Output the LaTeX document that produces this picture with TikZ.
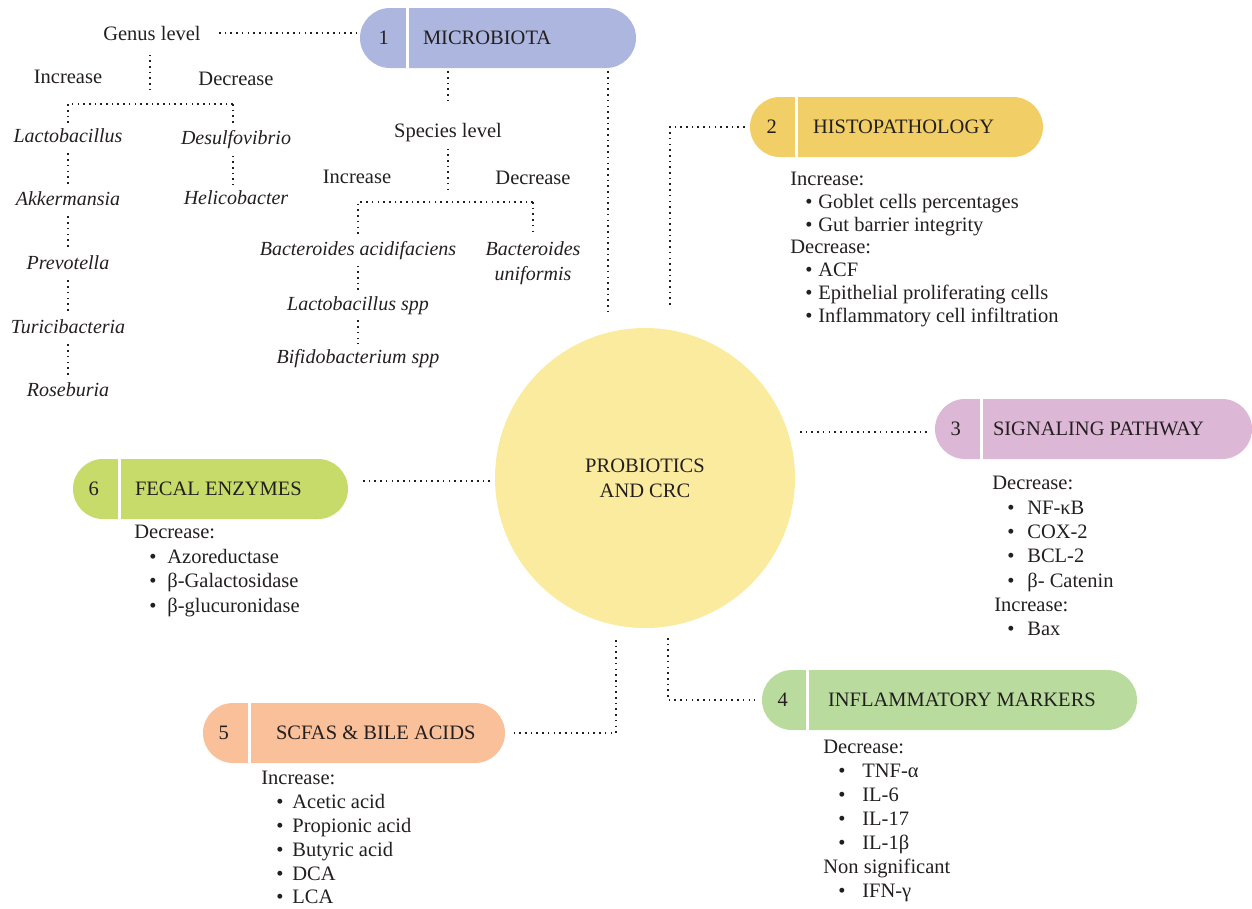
\documentclass[tikz,border=0pt]{standalone}
\usepackage{fontspec}
\setmainfont{Liberation Serif}
\usetikzlibrary{calc}

\definecolor{cInk}{HTML}{231F20}
\definecolor{cMicro}{HTML}{ADB6DF}
\definecolor{cHisto}{HTML}{F2CF66}
\definecolor{cSignal}{HTML}{DCB7D6}
\definecolor{cInflam}{HTML}{B9DC9E}
\definecolor{cScfa}{HTML}{F9C09A}
\definecolor{cFecal}{HTML}{C7DB6A}
\definecolor{cCircle}{HTML}{FBEB9F}

% bullet line of a list block
\newcommand{\itm}[2][13pt]{\hspace*{15pt}\makebox[#1][l]{\textbullet}#2}

\tikzset{every picture/.style={line width=0.75pt}}
\tikzset{
  base text/.style={text=cInk, font=\fontsize{20.5}{24}\selectfont, inner sep=2pt},
  taxon/.style={text=cInk, font=\fontsize{20}{24}\selectfont\itshape, inner sep=2pt},
  pill/.style={rounded corners=30pt, minimum height=60pt, inner sep=0pt},
  divider/.style={white, line width=3pt},
  dotline/.style={cInk, line width=1.8pt, dash pattern=on 1.6pt off 4.1pt},
  listtext/.style={text=cInk, anchor=north west, align=left, inner sep=0pt},
}

\begin{document}
\begin{tikzpicture}[x=1pt,y=1pt,yscale=-1,xscale=1]
\useasboundingbox (0,0) rectangle (1252,908);

%Central circle
\node [circle, fill=cCircle, minimum size=300pt, inner sep=0pt, align=center, text=cInk, font=\fontsize{20.5}{25}\selectfont] (crc) at (645,478) {PROBIOTICS\\AND CRC};

%Pill 1 [microbiota]
\node [pill, fill=cMicro, minimum width=276pt] (m1) at (498,38) {};
\draw [divider] ($(m1.north west)+(48,0)$) -- ($(m1.south west)+(48,0)$);
\node [base text] (n1) at ($(m1.west)+(24,0)$) {1};
\node [base text, anchor=west] (h1) at ($(m1.west)+(61,0)$) {MICROBIOTA};
%Pill 2 [histopathology]
\node [pill, fill=cHisto, minimum width=293pt] (m2) at (896.5,127) {};
\draw [divider] ($(m2.north west)+(47,0)$) -- ($(m2.south west)+(47,0)$);
\node [base text] (n2) at ($(m2.west)+(22,0)$) {2};
\node [base text, anchor=west] (h2) at ($(m2.west)+(61,0)$) {HISTOPATHOLOGY};
%Pill 3 [signaling]
\node [pill, fill=cSignal, minimum width=317pt] (m3) at (1093.5,429) {};
\draw [divider] ($(m3.north west)+(47,0)$) -- ($(m3.south west)+(47,0)$);
\node [base text] (n3) at ($(m3.west)+(21,0)$) {3};
\node [base text, anchor=west] (h3) at ($(m3.west)+(56,0)$) {SIGNALING PATHWAY};
%Pill 4 [inflammatory]
\node [pill, fill=cInflam, minimum width=375pt] (m4) at (949.5,700) {};
\draw [divider] ($(m4.north west)+(46,0)$) -- ($(m4.south west)+(46,0)$);
\node [base text] (n4) at ($(m4.west)+(21,0)$) {4};
\node [base text, anchor=west] (h4) at ($(m4.west)+(64,0)$) {INFLAMMATORY MARKERS};
%Pill 5 [scfas]
\node [pill, fill=cScfa, minimum width=302pt] (m5) at (354,733) {};
\draw [divider] ($(m5.north west)+(47,0)$) -- ($(m5.south west)+(47,0)$);
\node [base text] (n5) at ($(m5.west)+(21,0)$) {5};
\node [base text, anchor=west] (h5) at ($(m5.west)+(71,0)$) {SCFAS \& BILE ACIDS};
%Pill 6 [fecal]
\node [pill, fill=cFecal, minimum width=275pt] (m6) at (210.5,489) {};
\draw [divider] ($(m6.north west)+(47,0)$) -- ($(m6.south west)+(47,0)$);
\node [base text] (n6) at ($(m6.west)+(21,0)$) {6};
\node [base text, anchor=west] (h6) at ($(m6.west)+(60,0)$) {FECAL ENZYMES};

%Genus tree
\node [base text] (genus) at (152,33) {Genus level};
\node [base text] (gincr) at (68,77) {Increase};
\node [base text] (gdecr) at (236,79) {Decrease};
\node [taxon] (lacto) at (68,136) {Lactobacillus};
\node [taxon] (akk) at (68,199) {Akkermansia};
\node [taxon] (prevo) at (68,263) {Prevotella};
\node [taxon] (turici) at (68,327) {Turicibacteria};
\node [taxon] (rose) at (68,390) {Roseburia};
\node [taxon] (desulf) at (236,140) {Desulfovibrio};
\node [taxon] (helico) at (236,198) {Helicobacter};
\coordinate (gsplit) at (150,104);
\coordinate (gl) at (68,104);
\coordinate (gr) at (233,104);

%Species tree
\node [base text] (species) at (448,133) {Species level};
\node [base text] (sincr) at (357,177) {Increase};
\node [base text] (sdecr) at (533,178) {Decrease};
\node [taxon] (bacac) at (358,251) {Bacteroides acidifaciens};
\node [taxon] (lacspp) at (358,306) {Lactobacillus spp};
\node [taxon] (bifid) at (358,359) {Bifidobacterium spp};
\node [taxon, align=center, font=\fontsize{20}{25}\selectfont\itshape] (bacun) at (533,263) {Bacteroides\\uniformis};
\coordinate (sl) at (358,202);
\coordinate (sr) at (533,202);

%Dotted connectors
\draw [dotline, shorten <=16pt] (genus.east) -- (genus.east -| m1.west);
\draw [dotline, shorten <=12pt, shorten >=12pt] (genus.south -| gsplit) -- (gsplit);
\draw [dotline, shorten >=4pt] (gr) -- (gl) -- (lacto.north -| gl);
\draw [dotline, shorten >=2pt] (gr) -- (desulf.north -| gr);
\draw [dotline, shorten <=8pt, shorten >=4pt] (lacto) -- (akk);
\draw [dotline, shorten <=8pt, shorten >=4pt] (akk) -- (prevo);
\draw [dotline, shorten <=8pt, shorten >=4pt] (prevo) -- (turici);
\draw [dotline, shorten <=8pt, shorten >=4pt] (turici) -- (rose);
\draw [dotline, shorten <=4pt, shorten >=4pt] (desulf.south -| gr) -- (helico.north -| gr);
\draw [dotline, shorten <=3pt, shorten >=20pt] (m1.south -| species) -- (species);
\draw [dotline, shorten <=4pt, shorten >=12pt] (species.south) -- (species.south |- sl);
\draw [dotline, shorten >=4pt] (sr) -- (sl) -- (bacac.north -| sl);
\draw [dotline, shorten >=4pt] (sr) -- (bacun.north -| sr);
\draw [dotline, shorten <=3pt, shorten >=3pt] (bacac) -- (lacspp);
\draw [dotline, shorten <=3pt, shorten >=3pt] (lacspp) -- (bifid);

\coordinate (mc) at (608,315);
\draw [dotline, shorten <=3pt] (mc |- m1.south) -- (mc);
\coordinate (hc) at (670,308);
\draw [dotline, shorten <=5pt] (m2.west) -| (hc);
\coordinate (sc) at (800,432);
\draw [dotline, shorten >=5pt] (sc) -- (sc -| m3.west);
\coordinate (fc) at (490,481);
\draw [dotline, shorten >=14pt] (fc) -- (fc -| m6.east);
\coordinate (ic) at (668,638);
\draw [dotline, shorten >=7pt] (ic) |- (m4.west);
\coordinate (scf) at (616,640);
\draw [dotline, shorten >=5pt] (scf) |- (m5.east);

%List blocks
\node [listtext, font=\fontsize{20.5}{22.7}\selectfont] (t2) at (790,172) {Increase:\\\itm{Goblet cells percentages}\\\itm{Gut barrier integrity}\\Decrease:\\\itm{ACF}\\\itm{Epithelial proliferating cells}\\\itm{Inflammatory cell infiltration}};
\node [listtext, font=\fontsize{20.5}{24.3}\selectfont] (t3) at (992,476) {Decrease:\\\itm[20pt]{NF-κB}\\\itm[20pt]{COX-2}\\\itm[20pt]{BCL-2}\\\itm[20pt]{β- Catenin}\\\hspace*{2pt}Increase:\\\itm[20pt]{Bax}};
\node [listtext, font=\fontsize{20.5}{24}\selectfont] (t4) at (823,740) {Decrease:\\\itm[24pt]{TNF-α}\\\itm[24pt]{IL-6}\\\itm[24pt]{IL-17}\\\itm[24pt]{IL-1β}\\Non significant\\\itm[24pt]{IFN-γ}};
\node [listtext, font=\fontsize{20.5}{23.8}\selectfont] (t5) at (261,771) {Increase:\\\itm[16pt]{Acetic acid}\\\itm[16pt]{Propionic acid}\\\itm[16pt]{Butyric acid}\\\itm[16pt]{DCA}\\\itm[16pt]{LCA}};
\node [listtext, font=\fontsize{20.5}{24.5}\selectfont] (t6) at (134,525) {Decrease:\\\itm[18pt]{Azoreductase}\\\itm[18pt]{β-Galactosidase}\\\itm[18pt]{β-glucuronidase}};

\end{tikzpicture}
\end{document}
